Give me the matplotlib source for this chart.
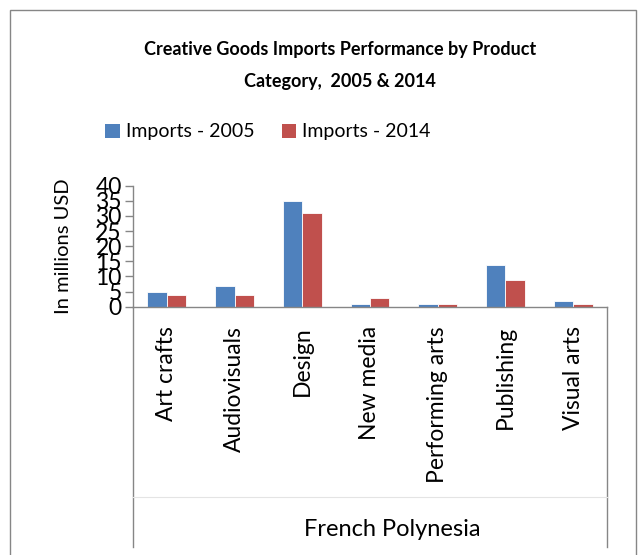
import numpy as np
import matplotlib
matplotlib.use('Agg')
import matplotlib.pyplot as plt
from matplotlib.patches import Rectangle, Patch

plt.rcParams['font.family'] = ['Lato', 'DejaVu Sans']

# Data (millions USD)
categories = ['Art crafts', 'Audiovisuals', 'Design', 'New media',
              'Performing arts', 'Publishing', 'Visual arts']
imports_2005 = [4.9, 6.8, 35.0, 0.8, 0.8, 13.9, 1.8]
imports_2014 = [3.8, 3.8, 31.0, 2.9, 0.8, 8.9, 0.8]
series_labels = ['Imports - 2005', 'Imports - 2014']
group_label = 'French Polynesia'
yticks = [0, 5, 10, 15, 20, 25, 30, 35, 40]

blue = '#4F81BD'
red = '#C0504D'
axis_gray = '#868686'

fig = plt.figure(figsize=(6.39, 5.55), dpi=100)
ax = fig.add_axes([0.208, 0.4474, 0.742, 0.218])

x = np.arange(len(categories))
w = 0.287
ax.bar(x - w / 2, imports_2005, w, color=blue, edgecolor='white', linewidth=0.6)
ax.bar(x + w / 2, imports_2014, w, color=red, edgecolor='white', linewidth=0.6)

ax.set_xlim(-0.5, len(categories) - 0.5)
ax.set_ylim(0, 40)
ax.set_yticks(yticks)
ax.set_yticklabels([str(t) for t in yticks], fontsize=16.5)
ax.tick_params(axis='y', length=6, width=1, color=axis_gray, pad=2)
ax.set_xticks(x)
ax.set_xticklabels(categories, rotation=90, fontsize=16.5, va='top')
ax.tick_params(axis='x', length=0, pad=14)

for side in ['top', 'right']:
    ax.spines[side].set_visible(False)
for side in ['left', 'bottom']:
    ax.spines[side].set_color(axis_gray)
    ax.spines[side].set_linewidth(1)

# category axis separators (multi-level axis look)
for xa in [0, 1]:
    ax.plot([xa, xa], [0, -1.99], transform=ax.transAxes, color=axis_gray,
            linewidth=1, clip_on=False)
ax.plot([0, 1], [-1.57, -1.57], transform=ax.transAxes, color='#e4e4e4',
        linewidth=0.8, clip_on=False)

ax.set_ylabel('In millions USD', fontsize=14.5)
ax.yaxis.set_label_coords(-0.128, 0.5)

fig.text(392 / 639, 1 - 530 / 555, group_label, fontsize=17,
         ha='center', va='center')

fig.text(340 / 639, 1 - 50 / 555, 'Creative Goods Imports Performance by Product',
         fontsize=13, fontweight='bold', ha='center', va='center')
fig.text(340 / 639, 1 - 81 / 555, 'Category,  2005 & 2014',
         fontsize=13, fontweight='bold', ha='center', va='center')

handles = [Patch(facecolor=blue), Patch(facecolor=red)]
fig.legend(handles, series_labels, loc='center', bbox_to_anchor=(268 / 639, 1 - 132 / 555),
           ncol=2, frameon=False, fontsize=14, handlelength=0.75, handleheight=0.75,
           handletextpad=0.3, columnspacing=1.4)

# outer chart border
fig.patches.append(Rectangle((10 / 639, -0.05), 626 / 639, 1 - 10 / 555 + 0.05,
                             transform=fig.transFigure, fill=False,
                             edgecolor=axis_gray, linewidth=1))

fig.savefig('out.png', dpi=100)
